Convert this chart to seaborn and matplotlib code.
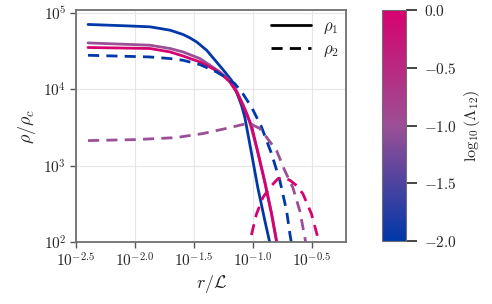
import numpy as np
import pandas as pd
import seaborn as sns
import matplotlib.pyplot as plt
import matplotlib as mpl
from matplotlib.colors import LinearSegmentedColormap
from matplotlib.lines import Line2D

sns.set_theme(style="ticks")
plt.rcParams["font.family"] = ["DejaVu Serif"]
plt.rcParams["mathtext.fontset"] = "cm"

# log10(Lambda_12) of each curve pair
log_lambda = [-2.0, -1.0, 0.0]

# rho_1 curves, read as (log10 r, log10 rho)
r1_blue = [-2.398, -2.076, -1.873, -1.703, -1.593, -1.535, -1.477, -1.392, -1.308, -1.237, -1.181,
           -1.138, -1.096, -1.068, -1.011, -0.958, -0.898, -0.856, -0.831]
rho1_blue = [4.851, 4.833, 4.820, 4.776, 4.720, 4.676, 4.622, 4.513, 4.359, 4.228, 4.118,
             3.964, 3.789, 3.632, 3.158, 2.711, 2.276, 1.987, 1.816]
r1_purple = [-2.398, -1.873, -1.703, -1.593, -1.449, -1.364, -1.280, -1.195, -1.138, -1.085,
             -1.042, -0.958, -0.898, -0.842, -0.797, -0.771]
rho1_purple = [4.609, 4.579, 4.536, 4.491, 4.404, 4.316, 4.228, 4.112, 3.980, 3.809,
               3.651, 3.184, 2.789, 2.382, 1.995, 1.79]
r1_pink = [-2.398, -1.873, -1.703, -1.593, -1.449, -1.339, -1.254, -1.195, -1.138, -1.085,
           -1.042, -1.011, -0.958, -0.898, -0.842, -0.797, -0.771]
rho1_pink = [4.549, 4.536, 4.491, 4.438, 4.359, 4.272, 4.184, 4.096, 3.964, 3.789,
             3.632, 3.526, 3.171, 2.776, 2.368, 1.987, 1.776]

# rho_2 curves
r2_blue = [-2.398, -1.873, -1.703, -1.593, -1.449, -1.308, -1.212, -1.153, -1.085, -1.011,
           -0.926, -0.842, -0.771, -0.714, -0.686, -0.669]
rho2_blue = [4.447, 4.425, 4.404, 4.382, 4.325, 4.228, 4.141, 4.075, 3.943, 3.767,
             3.504, 3.158, 2.803, 2.408, 2.105, 1.947]
r2_purple = [-2.398, -1.992, -1.653, -1.424, -1.229, -1.068, -1.008, -0.941, -0.884, -0.799,
             -0.729, -0.661, -0.602, -0.559, -0.542]
rho2_purple = [3.329, 3.342, 3.368, 3.421, 3.487, 3.546, 3.539, 3.487, 3.372, 3.197,
               2.934, 2.714, 2.408, 2.057, 1.908]
r2_pink = [-1.042, -1.025, -0.969, -0.915, -0.856, -0.788, -0.737, -0.686, -0.627, -0.576,
           -0.503, -0.449, -0.432]
rho2_pink = [1.855, 2.013, 2.368, 2.583, 2.714, 2.829, 2.842, 2.809, 2.737, 2.632,
             2.368, 2.057, 1.908]

cmap = LinearSegmentedColormap.from_list("bi", ["#0038a8", "#9b4f96", "#d60270"])
norm = mpl.colors.Normalize(-2.0, 0.0)

curves = [
    (r1_blue, rho1_blue, log_lambda[0], "rho1"),
    (r1_purple, rho1_purple, log_lambda[1], "rho1"),
    (r1_pink, rho1_pink, log_lambda[2], "rho1"),
    (r2_blue, rho2_blue, log_lambda[0], "rho2"),
    (r2_purple, rho2_purple, log_lambda[1], "rho2"),
    (r2_pink, rho2_pink, log_lambda[2], "rho2"),
]

fig = plt.figure(figsize=(4.92, 3.04), dpi=100)
ax = fig.add_axes([0.1545, 0.204, 0.5488, 0.763])
cax = fig.add_axes([0.7764, 0.207, 0.0488, 0.76])

for lr, lrho, lam, comp in curves:
    df = pd.DataFrame({"r": 10 ** np.array(lr), "rho": 10 ** np.array(lrho)})
    sns.lineplot(data=df, x="r", y="rho", ax=ax, color=cmap(norm(lam)),
                 linewidth=2.0, sort=False, estimator=None)
    ax.lines[-1].set_solid_joinstyle("round")
    if comp == "rho2":
        ax.lines[-1].set_dashes([4, 2.6])

ax.set_xscale("log")
ax.set_yscale("log")
ax.set_xlim(10 ** -2.5, 10 ** -0.21)
ax.set_ylim(1e2, 10 ** 5.04)

xt = [-2.5, -2.0, -1.5, -1.0, -0.5]
ax.set_xticks([10 ** v for v in xt])
ax.set_xticklabels([rf"$10^{{{v:.1f}}}$" for v in xt])
ax.xaxis.set_minor_locator(mpl.ticker.NullLocator())
yt = [2, 3, 4, 5]
ax.set_yticks([10 ** v for v in yt])
ax.set_yticklabels([rf"$10^{{{v}}}$" for v in yt])
ax.yaxis.set_minor_locator(mpl.ticker.NullLocator())

ax.grid(True, color="#e6e6e6", linewidth=0.8)
for s in ax.spines.values():
    s.set_color("#707070")
    s.set_linewidth(1.3)
ax.tick_params(length=4, width=1.0, color="#555555", labelsize=11, pad=3)

ax.set_xlabel(r"$r/\mathcal{L}$", fontsize=13, labelpad=2)
ax.set_ylabel(r"$\rho/\rho_c$", fontsize=13, labelpad=4)

handles = [Line2D([], [], color="black", linewidth=2.0),
           Line2D([], [], color="black", linewidth=2.0, dashes=[4, 2.6])]
ax.legend(handles, [r"$\rho_1$", r"$\rho_2$"], loc="upper right", frameon=False,
          fontsize=12, handlelength=2.4, handletextpad=0.7, labelspacing=0.3,
          borderaxespad=0.05)

cb = mpl.colorbar.ColorbarBase(cax, cmap=cmap, norm=norm)
cb.outline.set_edgecolor("#707070")
cb.outline.set_linewidth(0.8)
ct = [-2.0, -1.5, -1.0, -0.5, 0.0]
cb.set_ticks(ct)
cb.set_ticklabels([rf"${v:.1f}$" for v in ct])
cax.tick_params(length=8, width=1.2, labelsize=11, pad=5)
cb.set_label(r"$\log_{10}(\Lambda_{12})$", fontsize=11.5, labelpad=4)

fig.savefig("out.png", dpi=100)
